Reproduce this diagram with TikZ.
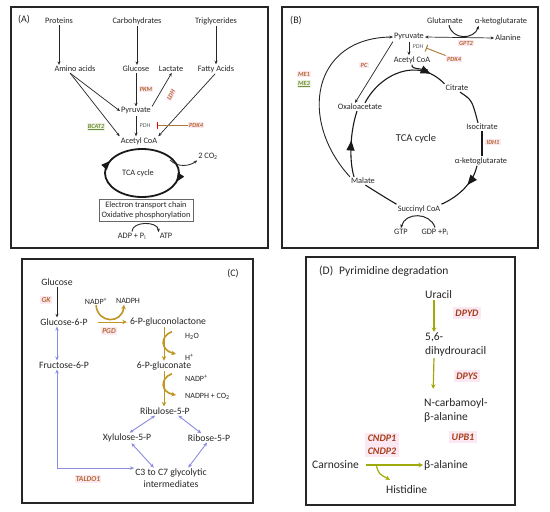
\documentclass[tikz,border=0pt]{standalone}
\usepackage{fontspec}
\setmainfont{Carlito}
\usetikzlibrary{arrows.meta, calc, decorations.markings}

\definecolor{enzbrown}{RGB}{178,104,42}
\definecolor{enzred}{RGB}{165,62,25}
\definecolor{enzpink}{RGB}{252,232,242}
\definecolor{enzgreen}{RGB}{118,140,58}
\definecolor{enzgreenbg}{RGB}{236,244,226}
\definecolor{inhbrown}{RGB}{170,120,55}
\definecolor{goldarrow}{RGB}{192,150,35}
\definecolor{limearrow}{RGB}{160,170,10}
\definecolor{bluearrow}{RGB}{140,140,225}

\begin{document}
\begin{tikzpicture}[
    x=1pt, y=-1pt,
    met/.style={inner sep=1pt, text=black!85, font=\fontsize{8.3}{10}\selectfont},
    metc/.style={met, font=\fontsize{9.7}{11.5}\selectfont},
    cof/.style={met, font=\fontsize{8}{9.5}\selectfont},
    metd/.style={met, anchor=west, align=left, font=\fontsize{11.5}{14}\selectfont},
    enz/.style={inner sep=1.2pt, fill=enzpink, text=enzbrown, font=\fontsize{6.3}{7}\selectfont\bfseries\itshape},
    enzg/.style={enz, fill=enzgreenbg, text=enzgreen},
    enzc/.style={enz, font=\fontsize{7.5}{9}\selectfont\bfseries\itshape},
    enzd/.style={enz, inner sep=2.5pt, text=enzred, align=center, font=\fontsize{10}{13}\selectfont\bfseries\itshape},
    pdh/.style={inner sep=0.5pt, text=black!65, font=\fontsize{6}{7}\selectfont\itshape},
    panel/.style={draw=black!85, line width=1.3pt},
    arrow/.style={-{Stealth[length=3.5pt, width=3pt]}, line width=0.7pt, black!85},
    both/.style={{Stealth[length=3.5pt, width=3pt]}-{Stealth[length=3.5pt, width=3pt]}, line width=0.7pt, black!85},
    goldline/.style={goldarrow, line width=1.6pt, -{Stealth[length=4.5pt, width=4.5pt]}},
    limeline/.style={limearrow, line width=1.2pt, -{Stealth[length=4.5pt, width=4.5pt]}},
    blueline/.style={bluearrow, line width=0.9pt, {Stealth[length=4pt, width=3.5pt]}-{Stealth[length=4pt, width=3.5pt]}},
    inhibit/.style={inhbrown, line width=0.9pt, -{Bar[width=7pt, line width=1pt]}},
    tcaline/.style={line width=1.1pt, black!90},
    bigtip/.style={postaction={decorate}, decoration={markings,
        mark=at position #1 with {\arrow{Triangle[length=10pt, width=8pt]}}}}
]
\path[fill=white, use as bounding box] (0,0) rectangle (550,512);

% Panel A
\draw[panel] (11,7) rectangle (268,248);
\node[met, font=\fontsize{10}{12}\selectfont] (labA) at (24,20) {(A)};
\node[met] (prot) at (59,21) {Proteins};
\node[met] (carb) at (137,21) {Carbohydrates};
\node[met] (trig) at (216,21) {Triglycerides};
\node[met] (amino) at (75,69) {Amino acids};
\node[met] (glucA) at (136,69) {Glucose};
\node[met] (lact) at (171,69) {Lactate};
\node[met] (fatty) at (216,69) {Fatty Acids};
\node[met] (pyrA) at (136,111) {Pyruvate};
\node[met] (acoaA) at (139,141) {Acetyl CoA};
\node[met] (tcaA) at (138,173) {TCA cycle};
\node[met, draw=black!60, line width=0.6pt, align=center, inner sep=2.5pt] (etc) at (146,210)
    {Electron transport chain\\Oxidative phosphorylation};
\node[met] (adp) at (132,236) {ADP + P\textsubscript{i}};
\node[met] (atp) at (166,236) {ATP};
\node[met] (co2) at (208,156) {2 CO\textsubscript{2}};
\node[enz] (pkm) at (146,89) {PKM};
\node[enz, rotate=62, inner sep=0.8pt] (ldh) at (171,95) {LDH};
\node[pdh] (pdhA) at (145,126) {PDH};
\node[enz] (pdk4A) at (196,125) {PDK4};
\node[enzg] (bcat) at (96,127) {\underline{BCAT2}};
\coordinate (pdhbarA) at (157,125);
\coordinate (co2out) at (170,160);

\draw[arrow] (prot.south) -- (prot.south |- amino.north);
\draw[arrow] (carb.south) -- (carb.south |- glucA.north);
\draw[arrow] (trig.south) -- (trig.south |- fatty.north);
\draw[arrow] (glucA.south) -- (pyrA.north);
\draw[arrow] (pyrA.north east) -- (lact.-80);
\draw[arrow] (amino.-140) -- (pyrA.west);
\draw[arrow] (amino.-140) -- (acoaA.north west);
\draw[arrow] (fatty.-100) -- (acoaA.north east);
\draw[arrow] (pyrA.south) -- (pyrA.south |- acoaA.north);
\draw[inhibit, -{Bar[width=7pt, line width=1pt, color=red]}] (pdk4A.west) -- (pdhbarA);
\draw[line width=1.8pt, black!90, postaction={decorate}, decoration={markings,
    mark=at position 0.05 with {\arrow{Triangle[length=9pt, width=7pt]}},
    mark=at position 0.57 with {\arrow{Triangle[length=9pt, width=7pt]}}}]
    (tcaA) ++(41,0) arc[start angle=0, end angle=360, x radius=37, y radius=24];
\draw[arrow, line width=0.8pt] (co2out) .. controls (178,168) and (190,166) .. (co2.south west);
\draw[arrow, line width=0.9pt] (adp.north) .. controls (132,221) and (158,221) .. (atp.north west);

% Panel B
\draw[panel] (282,7) rectangle (538,248);
\node[met, font=\fontsize{10}{12}\selectfont] (labB) at (296,21) {(B)};
\node[met] (glu) at (445,21) {Glutamate};
\node[met] (akgB1) at (501,21) {α-ketoglutarate};
\node[met] (pyrB) at (409,37) {Pyruvate};
\node[met] (ala) at (508,38) {Alanine};
\node[met] (acoaB) at (412,60) {Acetyl CoA};
\node[met] (cit) at (457,88) {Citrate};
\node[met] (oaa) at (360,107) {Oxaloacetate};
\node[met] (isocit) at (482,127) {Isocitrate};
\node[met, font=\fontsize{10.5}{12}\selectfont] (tcaB) at (416,139) {TCA cycle};
\node[met] (akgB2) at (481,161) {α-ketoglutarate};
\node[met] (mal) at (363,181) {Malate};
\node[met] (succ) at (419,209) {Succinyl CoA};
\node[met] (gtp) at (401,232) {GTP};
\node[met] (gdp) at (435,232) {GDP +P\textsubscript{i}};
\node[enz] (gpt2) at (466,43) {GPT2};
\node[pdh] (pdhB) at (418,47) {PDH};
\node[enz] (pdk4B) at (454,59) {PDK4};
\node[enz] (pc) at (364,65) {PC};
\node[enz] (me1) at (304,74) {ME1};
\node[enzg] (me3) at (304,84) {\underline{ME3}};
\node[enz] (idh1) at (493,142) {IDH1};
\coordinate (pdhbarB) at (426,48);
\coordinate (acjoin) at (428,70);

\draw[both] (pyrB.east) -- (ala.west);
\draw[arrow, line width=1pt] ([xshift=4pt]glu.south) .. controls (452,40) and (474,40) .. ([xshift=5pt]akgB1.south west);
\draw[arrow] (pyrB.south) -- (pyrB.south |- acoaB.north);
\draw[inhibit] (pdk4B.north west) -- (pdhbarB);
\draw[arrow] (pyrB.south west) -- ([xshift=-5pt]oaa.north);
\draw[arrow, line width=0.9pt] (mal.north west) .. controls (298,120) and (312,38) .. (pyrB.west);
% TCA cycle
\draw[tcaline, bigtip=0.82] ([xshift=5pt]oaa.north) .. controls (380,74) and (418,56) .. (cit.north west);
\draw[tcaline] (acoaB.south) .. controls (412,68) .. (acjoin);
\draw[tcaline] ([xshift=3pt]cit.south) .. controls (472,100) .. ([xshift=-4pt]isocit.north);
\draw[tcaline] (isocit.south) -- (isocit.south |- akgB2.north);
\draw[tcaline, bigtip=0.4] ([xshift=-4pt]akgB2.south) .. controls (474,180) and (462,195) .. (succ.north east);
\draw[tcaline] (succ.north west) .. controls (386,198) .. (mal.-60);
\draw[tcaline, bigtip=0.55] ([xshift=-9pt]mal.north) .. controls (349,160) and (350,132) .. ([xshift=-3pt]oaa.south);
\draw[arrow, line width=1pt] (gdp.north) .. controls (430,212) and (405,212) .. (gtp.north);

% Panel C
\draw[panel] (22,259) rectangle (253,503);
\node[metc, font=\fontsize{10}{12}\selectfont] (labC) at (233,274) {(C)};
\node[metc] (glucC) at (57,282) {Glucose};
\node[metc] (g6p) at (64,322) {Glucose-6-P};
\node[metc] (f6p) at (64,365) {Fructose-6-P};
\node[cof] (nadp1) at (96,301) {NADP\textsuperscript{+}};
\node[cof] (nadph1) at (128,301) {NADPH};
\node[metc] (pglac) at (168,322) {6-P-gluconolactone};
\node[cof, anchor=west] (h2o) at (184,336) {H\textsubscript{2}O};
\node[cof, anchor=west] (hplus) at (184,357) {H\textsuperscript{+}};
\node[metc] (pgl) at (164,366) {6-P-gluconate};
\node[cof, anchor=west] (nadp2) at (184,378) {NADP\textsuperscript{+}};
\node[cof, anchor=west] (nadphco2) at (184,396) {NADPH + CO\textsubscript{2}};
\node[metc] (rib) at (165,411) {Ribulose-5-P};
\node[metc] (xyl) at (127,438) {Xylulose-5-P};
\node[metc] (ribo) at (209,438) {Ribose-5-P};
\node[metc, align=center] (c3) at (171,478) {C3 to C7 glycolytic\\intermediates};
\node[enzc] (gk) at (46,300) {GK};
\node[enzc] (pgd) at (109,331) {PGD};
\node[enzc] (taldo) at (88,479) {TALDO1};

\draw[arrow] (glucC.south) -- (glucC.south |- g6p.north);
\draw[goldline, line width=1pt, shorten <=9pt, shorten >=2pt] (g6p.east) -- (pglac.west);
\draw[goldline] (nadp1.south) .. controls (98,324) and (122,324) .. ([xshift=-4pt]nadph1.south);
\draw[goldline, line width=1pt] (pglac.south -| pgl.north) -- (pgl.north);
\draw[goldline] ([xshift=-12pt]h2o.north west) .. controls (160,336) and (160,350) .. ([xshift=-8pt, yshift=3pt]hplus.west);
\draw[goldline, line width=1pt] (pgl.south) -- (pgl.south |- rib.north);
\draw[goldline] ([xshift=-12pt]nadp2.north west) .. controls (160,378) and (160,392) .. ([xshift=-8pt, yshift=1pt]nadphco2.west);
\draw[blueline] (g6p.south -| glucC.south) -- (f6p.north -| glucC.south);
\draw[blueline] (f6p.south -| glucC.south) |- (c3.165);
\draw[blueline] (rib.205) -- (xyl.63);
\draw[blueline] (rib.-19) -- (ribo.149);
\draw[blueline] (xyl.-50) -- (c3.149);
\draw[blueline] (ribo.-113) -- (c3.31);

% Panel D
\draw[panel] (306,257) rectangle (515,505);
\node[metd] (labD) at (318,271) {(D)\hspace{6pt}Pyrimidine degradation};
\node[metd] (ura) at (424,295) {Uracil};
\node[metd] (dhu) at (424,345) {5,6-\\dihydrouracil};
\node[metd] (ncarb) at (423,410) {N-carbamoyl-\\β-alanine};
\node[metd] (bala) at (423,465) {β-alanine};
\node[metd] (carn) at (311,465) {Carnosine};
\node[metd] (hist) at (385,490) {Histidine};
\node[enzd] (dpyd) at (467,313) {DPYD};
\node[enzd] (dpys) at (467,376) {DPYS};
\node[enzd] (upb1) at (463,437) {UPB1};
\node[enzd] (cndp) at (382,445) {CNDP1\\CNDP2};

\draw[limeline] ([xshift=10pt]ura.south west) -- ([xshift=10pt]dhu.north west);
\draw[limeline, shorten >=8pt] ([xshift=10pt]dhu.south west) -- ([xshift=10pt]ncarb.north west);
\draw[limeline, shorten <=6pt] (carn.east) -- (bala.west);
\draw[limeline] ([xshift=16pt]carn.east) .. controls (379,474) .. ([xshift=5pt, yshift=5pt]hist.north west);

\end{tikzpicture}
\end{document}
